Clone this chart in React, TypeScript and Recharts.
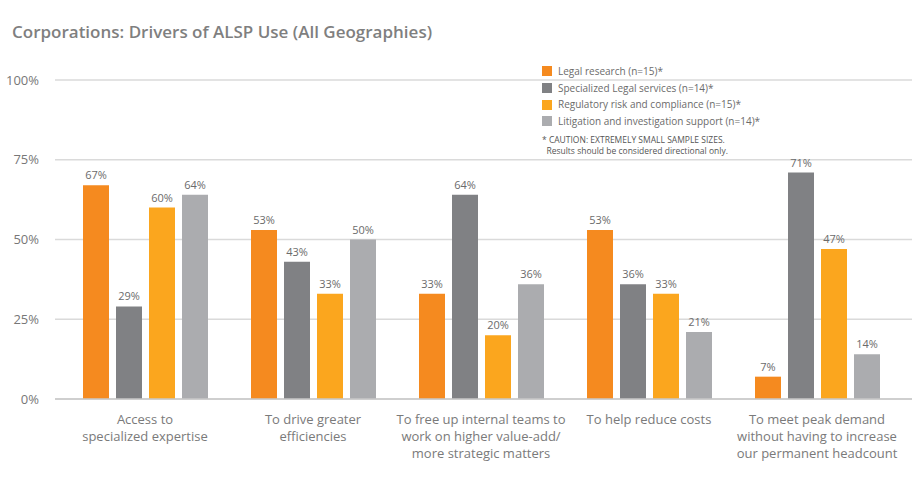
import { BarChart, Bar, XAxis, YAxis, CartesianGrid, LabelList } from "recharts";

const categories = [
  "Access to|specialized expertise",
  "To drive greater|efficiencies",
  "To free up internal teams to|work on higher value-add/|more strategic matters",
  "To help reduce costs",
  "To meet peak demand|without having to increase|our permanent headcount",
];
const legalResearch = [67, 53, 33, 53, 7];
const specializedLegal = [29, 43, 64, 36, 71];
const regulatoryRisk = [60, 33, 20, 33, 47];
const litigationSupport = [64, 50, 36, 21, 14];
const yTicks = [0, 25, 50, 75, 100];

const series = [
  { key: "legal", name: "Legal research (n=15)*", color: "#F58A1F", values: legalResearch },
  { key: "specialized", name: "Specialized Legal services (n=14)*", color: "#808184", values: specializedLegal },
  { key: "regulatory", name: "Regulatory risk and compliance (n=15)*", color: "#FBA61E", values: regulatoryRisk },
  { key: "litigation", name: "Litigation and investigation support (n=14)*", color: "#ABACAF", values: litigationSupport },
];

const data = categories.map((c, i) => {
  const row: any = { category: c };
  series.forEach((s) => (row[s.key] = s.values[i]));
  return row;
});

const font = "'Open Sans', sans-serif";

// x labels: one <text> per line
function CategoryTick({ x, y, payload }: any) {
  const lines = String(payload.value).split("|");
  return (
    <g>
      {lines.map((l, i) => (
        <text key={i} x={x} y={y + 17 + i * 17} textAnchor="middle" fill="#7a7a7a" fontSize={13} fontFamily={font}>
          {l}
        </text>
      ))}
    </g>
  );
}

function LegendBox() {
  return (
    <div
      style={{
        position: "absolute",
        left: 542,
        top: 63,
        fontFamily: font,
        fontSize: 10,
        color: "#6b6b6b",
        lineHeight: "16.7px",
      }}
    >
      {series.map((s) => (
        <div key={s.key} style={{ display: "flex", alignItems: "center" }}>
          <span style={{ width: 10, height: 10, background: s.color, display: "inline-block", marginRight: 6 }} />
          {s.name}
        </div>
      ))}
      <div style={{ fontSize: 8.5, color: "#555", lineHeight: "11px", marginTop: 4 }}>
        * CAUTION: EXTREMELY SMALL SAMPLE SIZES.
        <br />
        &nbsp;&nbsp;Results should be considered directional only.
      </div>
    </div>
  );
}

export default function App() {
  return (
    <div style={{ position: "absolute", left: 0, top: 0, width: 923, height: 487, background: "#fff" }}>
      <BarChart
        width={923}
        height={487}
        data={data}
        margin={{ top: 80, right: 11, left: 0, bottom: 0 }}
        barGap={7}
        barSize={26}
      >
        <CartesianGrid vertical={false} stroke="#dadada" strokeWidth={1.5} />
        <XAxis
          dataKey="category"
          tick={<CategoryTick />}
          tickLine={false}
          axisLine={{ stroke: "#c8c8c8", strokeWidth: 1.5 }}
          interval={0}
          height={88}
          padding={{ left: 6, right: 11 }}
        />
        <YAxis
          domain={[0, 100]}
          ticks={yTicks}
          tickFormatter={(v) => `${v}%`}
          tick={{ fill: "#777", fontSize: 13, fontFamily: font }}
          tickLine={false}
          axisLine={false}
          width={55}
          tickMargin={10}
        />
        {series.map((s) => (
          <Bar key={s.key} dataKey={s.key} name={s.name} fill={s.color} isAnimationActive={false}>
            <LabelList
              dataKey={s.key}
              position="top"
              offset={6}
              formatter={(v: any) => `${v}%`}
              style={{ fill: "#6b6b6b", fontSize: 11, fontFamily: font }}
            />
          </Bar>
        ))}
      </BarChart>
      <div
        style={{
          position: "absolute",
          left: 12,
          top: 20,
          fontFamily: font,
          fontSize: 17,
          fontWeight: 600,
          color: "#7f7f7f",
        }}
      >
        Corporations: Drivers of ALSP Use (All Geographies)
      </div>
      <LegendBox />
    </div>
  );
}
